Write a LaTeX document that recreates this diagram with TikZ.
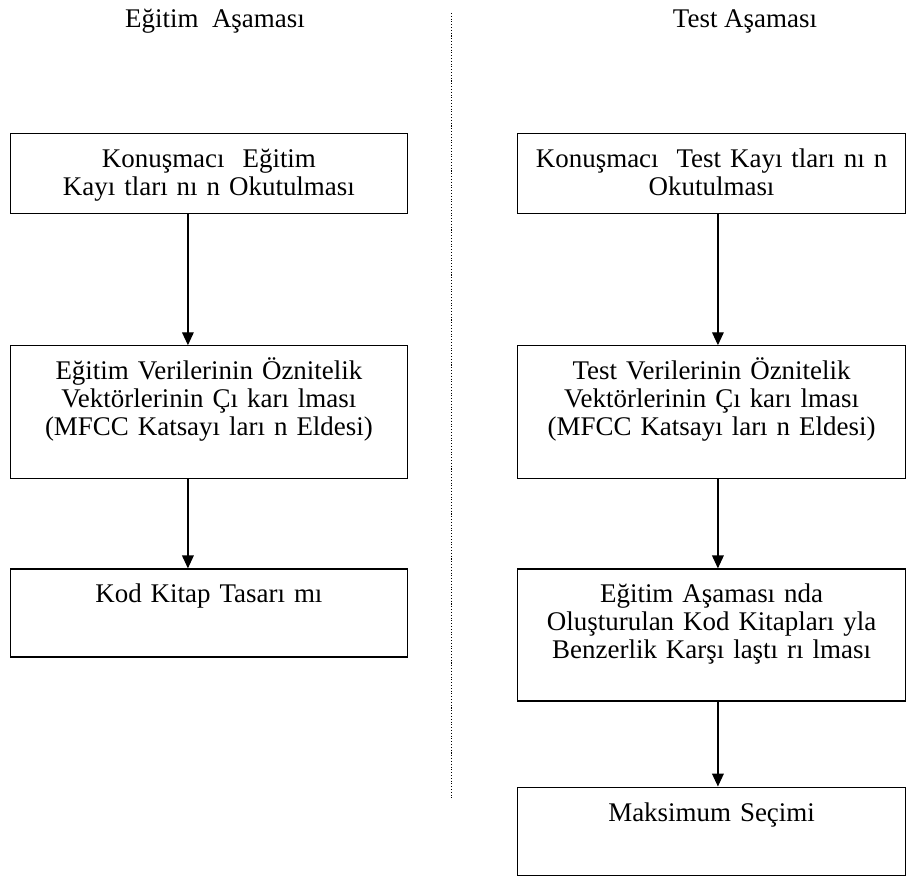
\documentclass[tikz,border=0pt]{standalone}
\usepackage{fontspec}
\setmainfont{Liberation Serif}
\usetikzlibrary{positioning, arrows.meta}

\begin{document}
\begin{tikzpicture}[
node distance=3.93cm and 3.27cm,
every node/.style={font=\fontsize{23}{23.9}\selectfont},
kutu/.style={rectangle, draw, line width=1pt, align=center, inner sep=0pt, text height=1.02cm},
baslik/.style={anchor=base},
arrow/.style={-{Triangle[width=10pt,length=11pt]}, line width=1pt},
ayrac/.style={line width=0.6pt, dash pattern=on 0.9pt off 1.5pt}
]
\useasboundingbox (0,0) rectangle (27.24,-26.31);

% BASLIKLAR
\node (egitim) [baslik] at (6.45,-0.84) {Eğitim~ Aşaması};
\node (test) [baslik] at (22.35,-0.84) {Test Aşaması};

% EGITIM ASAMASI
\node (kayit1) [kutu, text width=11.9cm, text depth=1.38cm, anchor=north west] at (0.3,-3.99) {Konuşmacı~ Eğitim\\Kayı tları nı n Okutulması};
\node (oznitelik1) [kutu, text width=11.9cm, text depth=2.97cm, below=of kayit1] {Eğitim Verilerinin Öznitelik\\Vektörlerinin Çı karı lması\\(MFCC Katsayı ları n Eldesi)};
\node (kodkitap) [kutu, text width=11.9cm, text depth=1.62cm, below=2.67cm of oznitelik1] {Kod Kitap Tasarı mı};

% TEST ASAMASI
\node (kayit2) [kutu, text width=11.65cm, text depth=1.38cm, right=of kayit1] {Konuşmacı~ Test Kayı tları nı n\\Okutulması};
\node (oznitelik2) [kutu, text width=11.65cm, text depth=2.97cm, below=of kayit2] {Test Verilerinin Öznitelik\\Vektörlerinin Çı karı lması\\(MFCC Katsayı ları n Eldesi)};
\node (karsilastir) [kutu, text width=11.65cm, text depth=2.94cm, below=2.67cm of oznitelik2] {Eğitim Aşaması nda\\Oluşturulan Kod Kitapları yla\\Benzerlik Karşı laştı rı lması};
\node (maksimum) [kutu, text width=11.65cm, text depth=1.62cm, below=2.55cm of karsilastir] {Maksimum Seçimi};

% AYRAC
\coordinate (ust) at (13.53,-0.39);
\coordinate (alt) at (13.53,-23.94);
\draw[ayrac] (ust) -- (alt);

% OKLAR
\draw[arrow] ([xshift=-0.63cm]kayit1.south) -- ([xshift=-0.63cm]oznitelik1.north);
\draw[arrow] ([xshift=-0.63cm]oznitelik1.south) -- ([xshift=-0.63cm]kodkitap.north);

\draw[arrow] ([xshift=0.19cm]kayit2.south) -- ([xshift=0.19cm]oznitelik2.north);
\draw[arrow] ([xshift=0.19cm]oznitelik2.south) -- ([xshift=0.19cm]karsilastir.north);
\draw[arrow] ([xshift=0.19cm]karsilastir.south) -- ([xshift=0.19cm]maksimum.north);

\end{tikzpicture}
\end{document}
